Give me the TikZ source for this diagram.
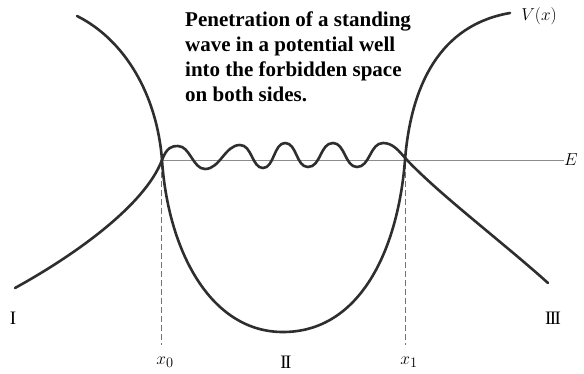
\documentclass[tikz,border=0pt]{standalone}
\usepackage{fontspec}
\setmainfont{Liberation Serif}
\begin{document}
\begin{tikzpicture}[x=1pt,y=-1pt,
  curve/.style={line width=2.6pt,color=black!82,line cap=round,line join=round},
  eline/.style={line width=0.9pt,color=black!45},
  guide/.style={line width=0.8pt,color=black!55,dash pattern=on 6pt off 3pt},
  lab/.style={inner sep=0pt,font=\fontsize{19}{22}\selectfont},
  caption/.style={inner sep=0pt,anchor=north west,align=left,
    font=\fontsize{21}{24.7}\selectfont\bfseries}]
\useasboundingbox (0,0) rectangle (584,373);
% energy level
\coordinate (e0) at (162,160);
\coordinate (e1) at (564,160);
\draw[eline] (e0) -- (e1);
% turning points
\coordinate (t0) at (161,163);
\coordinate (b0) at (161,345);
\coordinate (t1) at (405,163);
\coordinate (b1) at (405,345);
\draw[guide] (t0) -- (b0);
\draw[guide] (t1) -- (b1);
% potential V(x)
\draw[curve] (77,16) .. controls (125,40) and (157,95) .. (162,160)
  .. controls (168,250) and (210,332) .. (283,332)
  .. controls (360,332) and (398,250) .. (405,160)
  .. controls (411,85) and (440,25) .. (510,13);
% wave function
\draw[curve] (15,288) .. controls (75,255) and (145,205) .. (162,160)
  .. controls (167,147) and (172,146) .. (178,146)
  .. controls (190,146) and (193,169) .. (205,169)
  .. controls (220,169) and (225,145) .. (240,145)
  .. controls (252,145) and (252,168) .. (263,168)
  .. controls (274,168) and (274,143) .. (285,143)
  .. controls (297,143) and (296,167) .. (308,167)
  .. controls (321,167) and (320,143) .. (333,143)
  .. controls (345,143) and (345,167) .. (357,167)
  .. controls (370,167) and (370,143) .. (383,143)
  .. controls (393,143) and (399,151) .. (406,159)
  .. controls (440,195) and (500,240) .. (548,283);
% labels
\node[lab] (V) at (539,16) {$V(x)$};
\node[lab] (E) at (571,160) {$E$};
\node[lab] (x0) at (165,362) {$x_0$};
\node[lab] (x1) at (409,362) {$x_1$};
\node[lab] (r1) at (13,318) {I};
\node[lab] (r2) at (286,362) {I\kern-1.6pt I};
\node[lab] (r3) at (553,318) {I\kern-1.6pt I\kern-1.6pt I};
\node[caption] (cap) at (185,12) {Penetration of a standing\\wave in a potential well\\into the forbidden space\\on both sides.};
\end{tikzpicture}
\end{document}
